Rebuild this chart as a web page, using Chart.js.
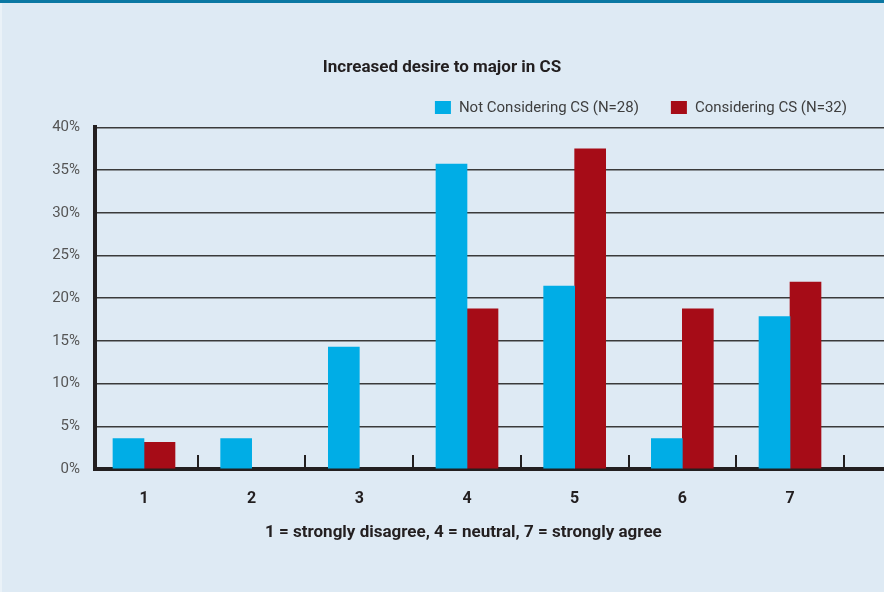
<!DOCTYPE html>
<html>
<head>
<meta charset="utf-8">
<script src="https://cdn.jsdelivr.net/npm/chart.js@4"></script>
<style>
  html, body { margin: 0; padding: 0; }
  body { background: #deeaf4; width: 884px; height: 592px; overflow: hidden; position: relative; }
  #topline { position: absolute; left: 0; top: 0; width: 884px; height: 3px; background: #0b78a3; }
  #edge { position: absolute; left: 0; top: 3px; width: 2px; height: 589px; background: #eaf2f8; }
  #wrap { position: absolute; left: 0; top: 3px; width: 884px; height: 589px; }
</style>
</head>
<body>
<div id="topline"></div>
<div id="edge"></div>
<div id="wrap"><canvas id="chart"></canvas></div>
<script>
const categories = ['1', '2', '3', '4', '5', '6', '7'];
const seriesNames = ['Not Considering CS (N=28)', 'Considering CS (N=32)'];
const notConsidering = [3.57, 3.57, 14.29, 35.71, 21.43, 3.57, 17.86];
const considering = [3.13, 0, 0, 18.75, 37.5, 18.75, 21.88];
const yTicks = [0, 5, 10, 15, 20, 25, 30, 35, 40];
const chartTitle = 'Increased desire to major in CS';
const axisTitle = '1 = strongly disagree, 4 = neutral, 7 = strongly agree';

const BLUE = '#00ade6';
const RED = '#a60c17';
const INK = '#231f20';

// empty answers get no bar at all
function points(values) {
  return categories.map((c, i) => ({ x: Number(c), y: values[i] === 0 ? null : values[i] }));
}

// small upward ticks between categories, legend and the axis caption
const extras = {
  id: 'extras',
  afterDraw(chart) {
    const ctx = chart.ctx;
    const x = chart.scales.x;
    const area = chart.chartArea;
    ctx.save();
    ctx.strokeStyle = INK;
    ctx.lineWidth = 2;
    for (let i = 1; i <= categories.length; i++) {
      const px = Math.round(x.getPixelForValue(i + 0.5));
      ctx.beginPath();
      ctx.moveTo(px, area.bottom - 14);
      ctx.lineTo(px, area.bottom);
      ctx.stroke();
    }

    // legend, right aligned
    ctx.font = '15px Roboto';
    ctx.textBaseline = 'middle';
    const colors = [BLUE, RED];
    const widths = seriesNames.map(n => ctx.measureText(n).width);
    const box = 16, gap = 8, spacing = 32;
    let total = 0;
    widths.forEach((w, i) => { total += box + gap + w + (i ? spacing : 0); });
    let lx = 847 - total;
    const ly = 104;
    seriesNames.forEach((n, i) => {
      ctx.fillStyle = colors[i];
      ctx.fillRect(lx, ly - 6, box, 13);
      ctx.fillStyle = '#3e3e3e';
      ctx.fillText(n, lx + box + gap, ly + 1);
      lx += box + gap + widths[i] + spacing;
    });

    // axis caption
    ctx.font = 'bold 17px Roboto';
    ctx.fillStyle = INK;
    ctx.textAlign = 'center';
    const cx = (area.left + x.getPixelForValue(categories.length + 0.5)) / 2;
    ctx.fillText(axisTitle, cx - 6, 530);
    ctx.restore();
  }
};

new Chart(document.getElementById('chart'), {
  type: 'bar',
  data: {
    datasets: [
      { label: seriesNames[0], data: points(notConsidering), backgroundColor: BLUE, borderWidth: 0 },
      { label: seriesNames[1], data: points(considering), backgroundColor: RED, borderWidth: 0 }
    ]
  },
  options: {
    responsive: true,
    maintainAspectRatio: false,
    animation: false,
    barThickness: 31,
    layout: { padding: { left: 0, right: 0, top: 0, bottom: 0 } },
    plugins: {
      legend: { display: false },
      tooltip: { enabled: false },
      title: {
        display: true,
        text: chartTitle,
        color: INK,
        font: { family: 'Roboto', size: 17, weight: 'bold' },
        padding: { top: 55, bottom: 49 }
      }
    },
    scales: {
      x: {
        type: 'linear',
        min: 0.545,
        max: 7.873,
        offset: false,
        z: 1,
        grid: { display: false, drawTicks: false },
        border: { display: true, color: INK, width: 4 },
        ticks: {
          stepSize: 1,
          includeBounds: false,
          autoSkip: false,
          maxRotation: 0,
          padding: 20,
          color: INK,
          font: { family: 'Roboto', size: 16, weight: 'bold' },
          callback: v => categories.includes(String(v)) ? String(v) : ''
        },
        afterFit: s => { s.height = 123; }
      },
      y: {
        min: yTicks[0],
        max: yTicks[yTicks.length - 1],
        grid: { color: '#3a3a3a', lineWidth: 1.5, drawTicks: false },
        border: { display: true, color: INK, width: 4 },
        ticks: {
          stepSize: 5,
          padding: 15,
          color: '#555555',
          font: { family: 'Roboto', size: 15 },
          callback: v => v + '%'
        },
        afterFit: s => { s.width = 95; }
      }
    }
  },
  plugins: [extras]
});
</script>
</body>
</html>
